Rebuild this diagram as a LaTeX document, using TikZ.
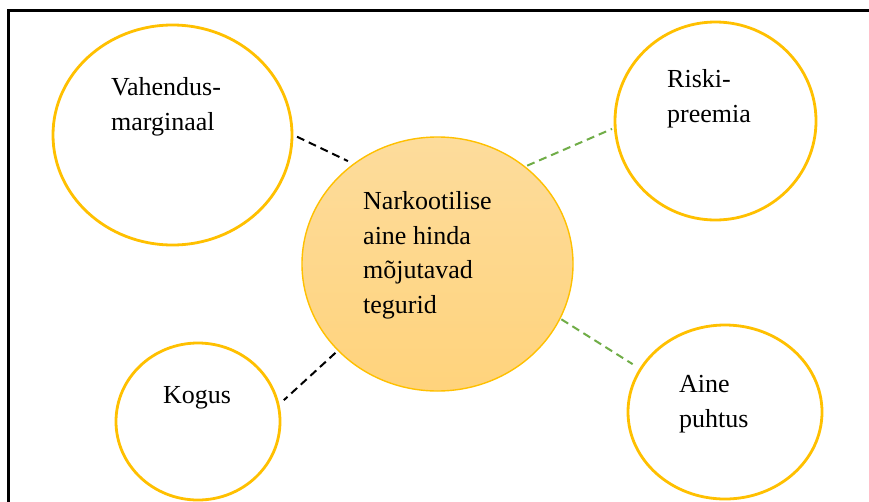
\documentclass[tikz,border=0pt]{standalone}
\usepackage{fontspec}
\setmainfont{Liberation Serif}
\usetikzlibrary{shapes.geometric}
\definecolor{gold}{HTML}{FFC000}
\definecolor{dgreen}{HTML}{70AD47}
\definecolor{ctop}{HTML}{FDDC9C}
\definecolor{cbot}{HTML}{FFD37C}
\begin{document}
\begin{tikzpicture}[x=1pt,y=-1pt,
  factor/.style={ellipse, draw=gold, line width=2.8pt, fill=white, inner sep=0pt},
  hub/.style={ellipse, draw=gold, line width=1.4pt, top color=ctop, bottom color=cbot, inner sep=0pt},
  lbl/.style={inner sep=0pt, align=left, anchor=base west, font=\fontsize{26}{34.5}\selectfont},
  blackdash/.style={draw=black, line width=2pt, dash pattern=on 8pt off 5pt},
  greendash/.style={draw=dgreen, line width=2pt, dash pattern=on 8pt off 5pt}]
\useasboundingbox (0,0) rectangle (869,501);
\fill[white] (0,0) rectangle (869,501);
\draw[line width=3pt] (8,505) -- (8,10) -- (872,10);

\node[factor, minimum width=239pt, minimum height=220pt] (v) at (172.5,135) {};
\node[factor, minimum width=201pt, minimum height=198pt] (r) at (715.5,121) {};
\node[factor, minimum width=164pt, minimum height=157pt] (k) at (198,421.5) {};
\node[factor, minimum width=194pt, minimum height=174pt] (a) at (725,412) {};
\node[hub, minimum width=271pt, minimum height=254pt] (c) at (437.5,264) {};

\node[lbl] (vt) at (111,130) {Vahendus-\\marginaal};
\node[lbl] (rt) at (667,122) {Riski-\\preemia};
\node[lbl] (kt) at (163,403) {Kogus};
\node[lbl] (at) at (679,427) {Aine\\puhtus};
\node[lbl] (ct) at (363,313) {Narkootilise\\aine hinda\\mõjutavad\\tegurid};

\draw[blackdash, shorten <=4pt, shorten >=6pt] (v.0) -- (c.130);
\draw[greendash, shorten <=2pt, shorten >=2pt] (c.48) -- (r.184);
\draw[greendash, shorten <=1pt, shorten >=8pt] (c.336) -- (a.153);
\draw[blackdash, shorten <=3pt, shorten >=6pt] (c.221) -- (k.12);
\end{tikzpicture}
\end{document}
